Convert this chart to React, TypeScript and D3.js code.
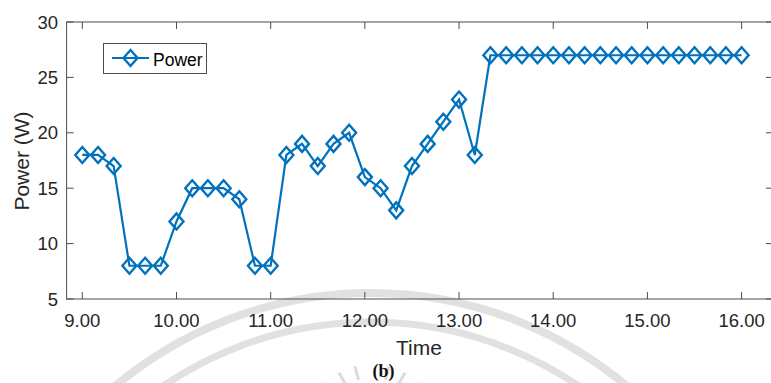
import React, { useEffect, useRef } from "react";
import * as d3 from "d3";

const times: number[] = [
  9.0, 9.167, 9.333, 9.5, 9.667, 9.833, 10.0, 10.167, 10.333, 10.5, 10.667, 10.833,
  11.0, 11.167, 11.333, 11.5, 11.667, 11.833, 12.0, 12.167, 12.333, 12.5, 12.667, 12.833,
  13.0, 13.167, 13.333, 13.5, 13.667, 13.833, 14.0, 14.167, 14.333, 14.5, 14.667, 14.833,
  15.0, 15.167, 15.333, 15.5, 15.667, 15.833, 16.0,
];
const power: number[] = [
  18, 18, 17, 8, 8, 8, 12, 15, 15, 15, 14, 8,
  8, 18, 19, 17, 19, 20, 16, 15, 13, 17, 19, 21,
  23, 18, 27, 27, 27, 27, 27, 27, 27, 27, 27, 27,
  27, 27, 27, 27, 27, 27, 27,
];
const xTicks: number[] = [9, 10, 11, 12, 13, 14, 15, 16];
const yTicks: number[] = [5, 10, 15, 20, 25, 30];
const seriesName = "Power";
const xLabel = "Time";
const yLabel = "Power (W)";
const caption = "(b)";

const W = 771;
const H = 383;
const BLUE = "#0072BD";
const AXIS = "#4d4d4d";
const TEXT = "#262626";
const FONT = "'Liberation Sans', Arial, Helvetica, sans-serif";

export default function App() {
  const ref = useRef<SVGSVGElement | null>(null);

  useEffect(() => {
    document.body.style.margin = "0";
    const svg = d3.select(ref.current);
    svg.selectAll("*").remove();

    const x = d3.scaleLinear().domain([8.8333, 16.3333]).range([66.6, 773]);
    const y = d3.scaleLinear().domain([5, 30]).range([299, 22]);
    const [x0, x1] = x.range();
    const [yb, yt] = y.range();

    svg.append("rect").attr("width", W).attr("height", H).attr("fill", "#fff");

    // faint watermark
    const wm = svg.append("g").attr("fill", "none").attr("stroke", "#dcdcdc").attr("opacity", 0.85);
    const cx = 371, cy = 691;
    [398, 369].forEach((r, i) => {
      wm.append("circle").attr("cx", cx).attr("cy", cy).attr("r", r).attr("stroke-width", i === 0 ? 8 : 7);
    });
    const rays = svg.append("g").attr("stroke", "#dcdcdc").attr("stroke-width", 3);
    [-60, -45, -30, -15, 15, 30, 45, 60].forEach((a) => {
      const rad = (a * Math.PI) / 180;
      const ox = 372, oy = 430;
      rays.append("line")
        .attr("x1", ox + Math.sin(rad) * 52).attr("y1", oy - Math.cos(rad) * 52)
        .attr("x2", ox + Math.sin(rad) * 66).attr("y2", oy - Math.cos(rad) * 66);
    });

    // axes box
    const ax = svg.append("g").attr("stroke", AXIS).attr("stroke-width", 1).attr("fill", "none");
    ax.append("rect").attr("x", x0).attr("y", yt).attr("width", x1 - x0).attr("height", yb - yt);
    xTicks.forEach((t) => {
      const px = x(t);
      ax.append("line").attr("x1", px).attr("x2", px).attr("y1", yb).attr("y2", yb - 7);
      ax.append("line").attr("x1", px).attr("x2", px).attr("y1", yt).attr("y2", yt + 7);
    });
    yTicks.forEach((t) => {
      const py = y(t);
      ax.append("line").attr("x1", x0).attr("x2", x0 + 7).attr("y1", py).attr("y2", py);
      ax.append("line").attr("x1", x1).attr("x2", x1 - 7).attr("y1", py).attr("y2", py);
    });

    const fmt = d3.format(".2f");
    svg.append("g").selectAll("text").data(xTicks).join("text")
      .attr("x", (d) => x(d)).attr("y", 327)
      .attr("text-anchor", "middle").attr("font-family", FONT).attr("font-size", 18.5)
      .attr("fill", TEXT).text((d) => fmt(d));
    svg.append("g").selectAll("text").data(yTicks).join("text")
      .attr("x", 58).attr("y", (d) => y(d) + 6.6)
      .attr("text-anchor", "end").attr("font-family", FONT).attr("font-size", 18.5)
      .attr("fill", TEXT).text((d) => String(d));

    svg.append("text").attr("x", 419).attr("y", 355).attr("text-anchor", "middle")
      .attr("font-family", FONT).attr("font-size", 21).attr("fill", TEXT).text(xLabel);
    svg.append("text").attr("transform", "translate(29,161) rotate(-90)").attr("text-anchor", "middle")
      .attr("font-family", FONT).attr("font-size", 21).attr("fill", TEXT).text(yLabel);
    svg.append("text").attr("x", 383.5).attr("y", 377).attr("text-anchor", "middle")
      .attr("font-family", "'Liberation Serif', 'Times New Roman', serif").attr("font-weight", "bold")
      .attr("font-size", 18).attr("fill", "#111").text(caption);

    // line
    const pts = times.map((t, i) => [t, power[i]] as [number, number]);
    const line = d3.line<[number, number]>().x((d) => x(d[0])).y((d) => y(d[1]));
    svg.append("path").datum(pts).attr("d", line).attr("fill", "none")
      .attr("stroke", BLUE).attr("stroke-width", 2.2);

    const diamond = (px: number, py: number) =>
      `M${px},${py - 8}L${px + 7},${py}L${px},${py + 8}L${px - 7},${py}Z`;
    svg.append("g").selectAll("path").data(pts).join("path")
      .attr("d", (d) => diamond(x(d[0]), y(d[1])))
      .attr("fill", "none").attr("stroke", BLUE).attr("stroke-width", 2.4);

    // legend
    const lg = svg.append("g");
    lg.append("rect").attr("x", 103.5).attr("y", 43.5).attr("width", 103).attr("height", 30)
      .attr("fill", "#fff").attr("stroke", AXIS).attr("stroke-width", 1);
    lg.append("line").attr("x1", 112).attr("x2", 149).attr("y1", 58).attr("y2", 58)
      .attr("stroke", BLUE).attr("stroke-width", 2.2);
    lg.append("path").attr("d", diamond(130.5, 58)).attr("fill", "none")
      .attr("stroke", BLUE).attr("stroke-width", 2.4);
    lg.append("text").attr("x", 153).attr("y", 65.5).attr("font-family", FONT)
      .attr("font-size", 17.5).attr("fill", "#000").text(seriesName);
  }, []);

  return <svg ref={ref} width={W} height={H} style={{ display: "block" }} />;
}
